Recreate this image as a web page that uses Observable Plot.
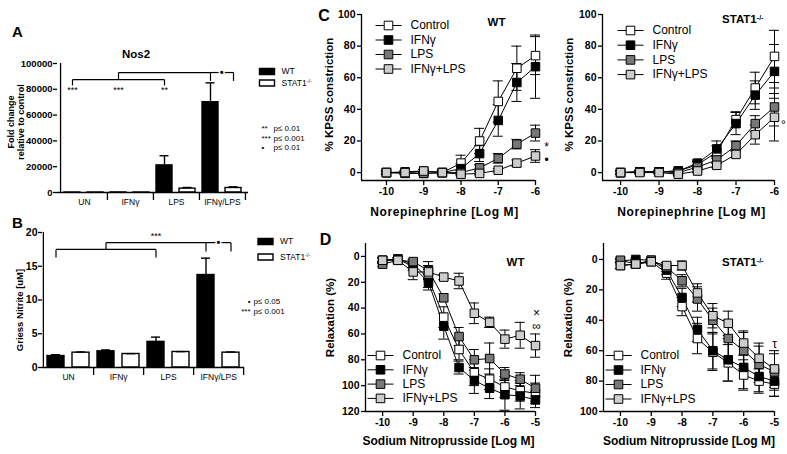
<!DOCTYPE html>
<html>
<head>
<meta charset="utf-8">
<script src="https://cdn.jsdelivr.net/npm/d3@7"></script>
<script src="https://cdn.jsdelivr.net/npm/@observablehq/plot@0.6"></script>
<style>
  html, body { margin: 0; padding: 0; background: #fff; }
  #chart { position: relative; width: 787px; height: 454px; overflow: hidden; background: #fff; }
</style>
</head>
<body>
<div id="chart"></div>
<script>
// ---------------- DATA ----------------
const groups = ["UN", "IFNγ", "LPS", "IFNγ/LPS"];
const genotypes = ["WT", "STAT1-/-"];

// A: Nos2 mRNA, fold change relative to control (mean, SEM)
const nos2WT = [1, 40, 21000, 70000];
const nos2WTsem = [0, 0, 7500, 15000];
const nos2KO = [1, 1, 3000, 3500];
const nos2KOsem = [0, 0, 900, 900];

// B: Griess nitrite [uM]
const nitriteWT = [1.7, 2.4, 3.8, 13.7];
const nitriteWTsem = [0.2, 0.2, 0.7, 2.5];
const nitriteKO = [2.2, 2.0, 2.3, 2.2];
const nitriteKOsem = [0.1, 0.05, 0.05, 0.1];

// significance brackets: [group1, genotype1, value1, group2, genotype2, value2]
const sigLinesA = [
  ["UN", "WT", 83000, "UN", "WT", 87500],
  ["UN", "WT", 87500, "LPS", "WT", 87500],
  ["LPS", "WT", 87500, "LPS", "WT", 83000],
  ["IFNγ", "WT", 87500, "IFNγ", "WT", 93000],
  ["IFNγ", "WT", 93000, "IFNγ/LPS", "WT", 93000],
  ["IFNγ/LPS", "WT", 93000, "IFNγ/LPS", "WT", 86500],
  ["IFNγ/LPS", "WT", 93000, "IFNγ/LPS", "STAT1-/-", 93000],
  ["IFNγ/LPS", "STAT1-/-", 93000, "IFNγ/LPS", "STAT1-/-", 86500]
];
const sigMarksA = [["UN", "WT", 79000, "***"], ["IFNγ", "WT", 79000, "***"], ["LPS", "WT", 79000, "**"]];
const sigDotA = [["IFNγ/LPS", 93000]];
const sigLinesB = [
  ["UN", "WT", 16.3, "UN", "WT", 17.5],
  ["UN", "WT", 17.5, "LPS", "WT", 17.5],
  ["LPS", "WT", 17.5, "LPS", "WT", 16.3],
  ["IFNγ", "WT", 17.5, "IFNγ", "WT", 18.5],
  ["IFNγ", "WT", 18.5, "IFNγ/LPS", "WT", 18.5],
  ["IFNγ/LPS", "WT", 18.5, "IFNγ/LPS", "WT", 17.2],
  ["IFNγ/LPS", "WT", 18.5, "IFNγ/LPS", "STAT1-/-", 18.5],
  ["IFNγ/LPS", "STAT1-/-", 18.5, "IFNγ/LPS", "STAT1-/-", 17.2]
];
const sigMarksB = [["LPS", "WT", 19.4, "***"]];
const sigDotB = [["IFNγ/LPS", 18.5]];
const pLegendA = [["**", "p≤ 0.01"], ["***", "p≤ 0.001"], ["•", "p≤ 0.01"]];
const pLegendB = [["•", "p≤ 0.05"], ["***", "p≤ 0.001"]];

// C/D dose–response curves
const treatments = ["Control", "IFNγ", "LPS", "IFNγ+LPS"];
const neDose = [-10, -9.5, -9, -8.5, -8, -7.5, -7, -6.5, -6];
const snpDose = [-10, -9.5, -9, -8.5, -8, -7.5, -7, -6.5, -6, -5.5, -5];

// C WT: % KPSS constriction
const cWT_Control = [0, 0.5, 1, 0, 6, 20, 45, 66, 74];
const cWT_ControlSem = [1, 1, 1, 1, 5, 8, 13, 14, 12];
const cWT_IFNg = [0, -0.5, -0.5, 0, 2.5, 12, 33, 57, 67];
const cWT_IFNgSem = [1, 1, 1, 1, 3, 5, 10, 12, 20];
const cWT_LPS = [0, 0, -0.5, 0, 0, 3, 9, 18, 25];
const cWT_LPSSem = [1, 1, 1, 1, 1, 2, 3, 3, 5];
const cWT_IFNgLPS = [0, 0, 1, 0, -1, -0.5, 1.5, 6, 10.5];
const cWT_IFNgLPSSem = [1, 1, 1, 1, 1, 1, 1, 2, 4];
// C STAT1-/-
const cKO_Control = [0, 0.5, 0.5, 1, 5, 13, 33.5, 53.5, 73.5];
const cKO_ControlSem = [1, 1, 1, 1, 2, 4, 5, 10, 16.5];
const cKO_IFNg = [0, 0.5, 0.5, 1, 6, 15, 31, 49, 64];
const cKO_IFNgSem = [1, 1, 1, 1, 2, 5, 7, 9, 17];
const cKO_LPS = [0, 0.5, 0.5, 0, 3.5, 8, 17, 31, 41.5];
const cKO_LPSSem = [1, 1, 1, 1, 1, 2, 3, 5, 12];
const cKO_IFNgLPS = [0, 0, 0, -1, 1, 4.6, 11.5, 24, 35];
const cKO_IFNgLPSSem = [1, 1, 1, 1, 1, 1.5, 2, 6, 15];
// D WT: relaxation %
const dWT_Control = [3, 2, 6, 17, 47, 72, 90, 95, 101, 104, 106];
const dWT_ControlSem = [2, 1, 3, 7, 8, 8, 10, 8, 8, 8, 8];
const dWT_IFNg = [3, 2, 8, 20, 54, 86, 96, 102, 107, 108, 111];
const dWT_IFNgSem = [2, 1, 3, 6, 10, 5, 10, 8, 12, 10, 6];
const dWT_LPS = [6, 3, 4, 11, 32, 62, 80, 79, 91, 95, 102];
const dWT_LPSSem = [2, 1, 2, 7, 3, 7, 8, 12, 5, 5, 10];
const dWT_IFNgLPS = [3, 3, 12, 12, 16, 19, 44, 51, 64, 61, 69];
const dWT_IFNgLPSSem = [2, 2, 6, 5, 2, 6, 8, 4, 7, 10, 9];
// D STAT1-/-
const dKO_Control = [4, 3, 1.5, 9, 31, 52, 61, 68, 76, 80, 82];
const dKO_ControlSem = [2, 1, 1, 4, 6, 10, 12, 12, 10, 8, 8];
const dKO_IFNg = [1, 0, 0.5, 7, 25, 46, 60, 66, 71, 77, 80];
const dKO_IFNgSem = [1, 1, 1, 3, 6, 8, 12, 14, 14, 10, 10];
const dKO_LPS = [0.5, 3, 0.5, 5, 14, 26, 40, 52, 60, 69, 74];
const dKO_LPSSem = [1, 2, 1, 3, 4, 8, 8, 12, 12, 12, 12];
const dKO_IFNgLPS = [4, 3, 1.5, 4, 4, 22, 37, 42, 55, 65, 72];
const dKO_IFNgLPSSem = [2, 2, 1, 2, 3, 6, 8, 8, 8, 10, 12];

// significance symbols at the highest dose: [dose, value, symbol]
const annCWT = [[-6, 16, "*"], [-6, 8, "•"]];
const annCKO = [[-6, 30, "°"]];
const annDWT = [[-5, 44, "×"], [-5, 54, "∞"]];
const annDKO = [[-5, 56, "τ"]];

// ---------------- LAYOUT / STYLE ----------------
const W = 787, H = 454;
const FONT = "'Liberation Sans', Arial, Helvetica, sans-serif";
const seriesFills = ["#ffffff", "#000000", "#787878", "#cdcdcd"];
const LW = 1.3;
const svgStyle = () => ({position: "absolute", left: "0px", top: "0px", background: "none", overflow: "visible", fontFamily: FONT, color: "#000"});
const frameMargins = (f) => ({width: W, height: H, marginLeft: f.left, marginRight: W - f.right, marginTop: f.top, marginBottom: H - f.bottom});

const rectSwatch = {draw(ctx) { ctx.moveTo(-7.5, -3); ctx.lineTo(7.5, -3); ctx.lineTo(7.5, 3); ctx.lineTo(-7.5, 3); ctx.closePath(); }};
const lineSwatch = {draw(ctx) {
  const h = 4.3;
  ctx.moveTo(-13, 0); ctx.lineTo(-h, 0);
  ctx.moveTo(h, 0); ctx.lineTo(13, 0);
  ctx.moveTo(-h, -h); ctx.lineTo(h, -h); ctx.lineTo(h, h); ctx.lineTo(-h, h); ctx.closePath();
}};

const txt = (s, o) => Plot.text([s], {text: (d) => d, textAnchor: "middle", lineAnchor: "middle", ...o});

// ---------------- BAR PANELS (A, B) ----------------
function barPanel(c) {
  const key = (g, s) => g + "|" + s;
  const rows = groups.flatMap((g, i) => [
    {key: key(g, genotypes[0]), g, geno: genotypes[0], v: c.wt[i], e: c.wtSem[i]},
    {key: key(g, genotypes[1]), g, geno: genotypes[1], v: c.ko[i], e: c.koSem[i]}
  ]);
  const step = (c.f.right - c.f.left) / rows.length;
  const errRows = rows.filter((d) => d.e > 0);
  const segs = c.sigLines.map(([g1, s1, y1, g2, s2, y2]) => ({a: key(g1, s1), ya: y1, b: key(g2, s2), yb: y2}));
  return Plot.plot({
    ...frameMargins(c.f),
    style: svgStyle(),
    x: {type: "band", domain: rows.map((d) => d.key), paddingInner: 0.31, paddingOuter: 0.155, axis: null},
    y: {domain: c.yDomain},
    color: {domain: genotypes, range: ["#000000", "#ffffff"]},
    marks: [
      Plot.barY(rows, {x: "key", y: "v", fill: "geno", stroke: "#000", strokeWidth: 1.4}),
      Plot.ruleX(errRows, {x: "key", y1: "v", y2: (d) => d.v + d.e, stroke: "#000", strokeWidth: 1.4}),
      Plot.tickY(errRows, {x: "key", y: (d) => d.v + d.e, insetLeft: c.capInset, insetRight: c.capInset, stroke: "#000", strokeWidth: 1.4}),
      Plot.ruleY([0], {stroke: "#000", strokeWidth: LW}),
      Plot.ruleX([rows[0].key], {dx: -step / 2, stroke: "#000", strokeWidth: LW}),
      Plot.ruleX(groups.map((g) => key(g, genotypes[1])), {dx: step / 2, y1: 0, y2: 0, insetBottom: -8, stroke: "#000", strokeWidth: LW}),
      Plot.axisY({ticks: c.yTicks, tickFormat: (d) => String(d), tickSize: 4, tickPadding: 1, fontSize: c.tickFont, fontWeight: "bold", strokeWidth: LW, label: null}),
      Plot.text(groups, {x: (g) => key(g, genotypes[0]), y: 0, dx: step / 2, dy: 10, text: (g) => g, fontSize: 8.5, fontWeight: "normal"}),
      Plot.link(segs, {x1: "a", y1: "ya", x2: "b", y2: "yb", stroke: "#000", strokeWidth: 1.2}),
      Plot.text(c.sigMarks, {x: (d) => key(d[0], d[1]), y: (d) => d[2], text: (d) => d[3], fontSize: 9, fontWeight: "normal"}),
      Plot.text(c.sigDot, {x: (d) => key(d[0], genotypes[1]), y: (d) => d[1], dx: -step / 2, text: () => "•", fontSize: 11, fontWeight: "bold", fill: "#000", stroke: "#fff", strokeWidth: 3, paintOrder: "stroke"}),
      // panel letter, title, axis label
      txt(c.letter, {frameAnchor: "top-left", dx: c.letterDx, dy: c.letterDy, fontSize: 15, fontWeight: "bold"}),
      ...(c.title ? [txt(c.title, {frameAnchor: "top", dx: c.titleDx, dy: c.titleDy, fontSize: 11.5, fontWeight: "bold"})] : []),
      txt(c.yLabel, {frameAnchor: "left", dx: c.yLabelDx, dy: c.yLabelDy, rotate: -90, fontSize: c.yLabelFont, fontWeight: "bold", lineHeight: 1.2}),
      // genotype legend
      ...genotypes.map((g, k) => Plot.dot([g], {frameAnchor: "top-right", dx: c.legDx, dy: c.legDy + k * c.legStep, symbol: rectSwatch, fill: k ? "#ffffff" : "#000000", stroke: "#000", strokeWidth: 1.4})),
      ...genotypes.map((g, k) => txt(g, {frameAnchor: "top-right", dx: c.legDx + 14.5, dy: c.legDy + k * c.legStep, textAnchor: "start", fontSize: 8.5, fontWeight: "normal"})),
      // p-value legend
      ...c.pLegend.map((p, k) => txt(p[0], {frameAnchor: "top-right", dx: c.pDx, dy: c.pDy + k * c.pStep, textAnchor: c.pSymAnchor, fontSize: 8, fontWeight: "normal"})),
      ...c.pLegend.map((p, k) => txt(p[1], {frameAnchor: "top-right", dx: c.pTextDx, dy: c.pDy + k * c.pStep, textAnchor: "start", fontSize: 8, fontWeight: "normal"}))
    ]
  });
}

// ---------------- CURVE PANELS (C, D) ----------------
function curvePanel(c) {
  const rows = treatments.flatMap((t, k) => c.doses.map((x, i) => ({t, x, y: c.values[k][i], e: c.sems[k][i]})));
  const xAxisAt = c.reverse ? c.yDomain[1] : c.yDomain[0];
  return Plot.plot({
    ...frameMargins(c.f),
    style: svgStyle(),
    x: {domain: c.xDomain},
    y: {domain: c.yDomain, reverse: c.reverse},
    color: {domain: treatments, range: seriesFills},
    marks: [
      Plot.ruleX([c.xDomain[0]], {stroke: "#000", strokeWidth: LW}),
      Plot.ruleY([xAxisAt], {stroke: "#000", strokeWidth: LW}),
      Plot.axisY({ticks: c.yTicks, tickFormat: (d) => String(d), tickSize: 4, tickPadding: 2, fontSize: 10.5, fontWeight: "bold", strokeWidth: LW, label: null}),
      Plot.axisX({ticks: c.xTicks, tickFormat: (d) => (d < 0 ? "-" : "") + Math.abs(d), tickSize: 5, tickPadding: 2, fontSize: 10.5, fontWeight: "bold", strokeWidth: LW, label: null}),
      Plot.line(rows, {x: "x", y: "y", z: "t", stroke: "#000", strokeWidth: 1}),
      Plot.ruleX(rows, {x: "x", y1: (d) => d.y - d.e, y2: (d) => d.y + d.e, stroke: "#000", strokeWidth: 1}),
      Plot.ruleY(rows, {x1: "x", x2: "x", y: (d) => d.y + d.e, insetLeft: -5, insetRight: -5, stroke: "#000", strokeWidth: 1}),
      Plot.ruleY(rows, {x1: "x", x2: "x", y: (d) => d.y - d.e, insetLeft: -5, insetRight: -5, stroke: "#000", strokeWidth: 1}),
      Plot.dot(rows, {x: "x", y: "y", fill: "t", symbol: "square", r: 4.8, stroke: "#000", strokeWidth: 1}),
      Plot.text(c.ann, {x: (d) => d[0], y: (d) => d[1], text: (d) => d[2], dx: c.annDx, fontSize: 12, fontWeight: "normal"}),
      // legend
      ...treatments.map((t, k) => Plot.dot([t], {frameAnchor: c.legAnchor, dx: c.legDx, dy: c.legDy + k * c.legStep, symbol: lineSwatch, fill: seriesFills[k], stroke: "#000", strokeWidth: 1})),
      ...treatments.map((t, k) => txt(t, {frameAnchor: c.legAnchor, dx: c.legDx + 22, dy: c.legDy + k * c.legStep, textAnchor: "start", fontSize: 12, fontWeight: "normal"})),
      // texts
      ...(c.letter ? [txt(c.letter, {frameAnchor: "top-left", dx: c.letterDx, dy: c.letterDy, fontSize: 16, fontWeight: "bold"})] : []),
      txt(c.title, {frameAnchor: "top-right", dx: c.titleDx, dy: c.titleDy, textAnchor: "end", fontSize: 11.5, fontWeight: "bold"}),
      txt(c.yLabel, {frameAnchor: "left", dx: c.yLabelDx, dy: c.yLabelDy, rotate: -90, fontSize: 11.5, fontWeight: "bold"}),
      txt(c.xLabel, {frameAnchor: "bottom", dx: c.xLabelDx, dy: c.xLabelDy, fontSize: 12, fontWeight: "bold"})
    ]
  });
}

const chart = document.getElementById("chart");

chart.appendChild(barPanel({
  f: {left: 57, right: 248, top: 63, bottom: 192},
  wt: nos2WT, wtSem: nos2WTsem, ko: nos2KO, koSem: nos2KOsem,
  yDomain: [0, 100000], yTicks: [0, 20000, 40000, 60000, 80000, 100000], tickFont: 9.5, capInset: 3.5,
  sigLines: sigLinesA, sigMarks: sigMarksA, sigDot: sigDotA,
  letter: "A", letterDx: -40, letterDy: -31, title: "Nos2", titleDx: -17, titleDy: -9,
  yLabel: "Fold change\nrelative to control", yLabelDx: -42, yLabelDy: -6, yLabelFont: 9,
  legDx: 18.5, legDy: 8, legStep: 11.5,
  pLegend: pLegendA, pDx: 13, pSymAnchor: "start", pTextDx: 25, pDy: 65, pStep: 9.5
}));

chart.appendChild(barPanel({
  f: {left: 42, right: 244, top: 232, bottom: 367},
  wt: nitriteWT, wtSem: nitriteWTsem, ko: nitriteKO, koSem: nitriteKOsem,
  yDomain: [0, 20], yTicks: [0, 5, 10, 15, 20], tickFont: 10.5, capInset: 4,
  sigLines: sigLinesB, sigMarks: sigMarksB, sigDot: sigDotB,
  letter: "B", letterDx: -25, letterDy: -9, title: null,
  yLabel: "Griess Nitrite [uM]", yLabelDx: -23, yLabelDy: 10, yLabelFont: 9.5,
  legDx: 21, legDy: 9, legStep: 15.5,
  pLegend: pLegendB, pDx: 6, pSymAnchor: "end", pTextDx: 9, pDy: 69, pStep: 10
}));

chart.appendChild(curvePanel({
  f: {left: 361, right: 535, top: 14, bottom: 180}, xDomain: [-10.67, -6], yDomain: [-5, 100], reverse: false,
  yTicks: [0, 20, 40, 60, 80, 100], xTicks: [-10, -9, -8, -7, -6], doses: neDose,
  values: [cWT_Control, cWT_IFNg, cWT_LPS, cWT_IFNgLPS], sems: [cWT_ControlSem, cWT_IFNgSem, cWT_LPSSem, cWT_IFNgLPSSem],
  ann: annCWT, annDx: 11,
  legAnchor: "top-left", legDx: 27, legDy: 11, legStep: 14.5,
  letter: "C", letterDx: -37.5, letterDy: 1, title: "WT", titleDx: -30, titleDy: 8,
  yLabel: "% KPSS constriction", yLabelDx: -32, yLabelDy: -3,
  xLabel: "Norepinephrine [Log M]", xLabelDx: -4, xLabelDy: 32
}));

chart.appendChild(curvePanel({
  f: {left: 602, right: 774, top: 14, bottom: 180}, xDomain: [-10.47, -6], yDomain: [-5, 100], reverse: false,
  yTicks: [0, 20, 40, 60, 80, 100], xTicks: [-10, -9, -8, -7, -6], doses: neDose,
  values: [cKO_Control, cKO_IFNg, cKO_LPS, cKO_IFNgLPS], sems: [cKO_ControlSem, cKO_IFNgSem, cKO_LPSSem, cKO_IFNgLPSSem],
  ann: annCKO, annDx: 9,
  legAnchor: "top-left", legDx: 28, legDy: 16, legStep: 14.7,
  letter: null, title: "STAT1-/-", titleDx: -11, titleDy: 5,
  yLabel: "% KPSS constriction", yLabelDx: -33, yLabelDy: -3,
  xLabel: "Norepinephrine [Log M]", xLabelDx: 3, xLabelDy: 32
}));

chart.appendChild(curvePanel({
  f: {left: 365, right: 535, top: 243, bottom: 411}, xDomain: [-10.56, -5], yDomain: [-10, 120], reverse: true,
  yTicks: [0, 20, 40, 60, 80, 100, 120], xTicks: [-10, -9, -8, -7, -6, -5], doses: snpDose,
  values: [dWT_Control, dWT_IFNg, dWT_LPS, dWT_IFNgLPS], sems: [dWT_ControlSem, dWT_IFNgSem, dWT_LPSSem, dWT_IFNgLPSSem],
  ann: annDWT, annDx: 1,
  legAnchor: "bottom-left", legDx: 15, legDy: -56, legStep: 14.3,
  letter: "D", letterDx: -40, letterDy: -4, title: "WT", titleDx: -11, titleDy: 19,
  yLabel: "Relaxation (%)", yLabelDx: -35, yLabelDy: -10,
  xLabel: "Sodium Nitroprusside [Log M]", xLabelDx: -2, xLabelDy: 30
}));

chart.appendChild(curvePanel({
  f: {left: 603, right: 774, top: 243, bottom: 411}, xDomain: [-10.55, -5], yDomain: [-10.5, 100], reverse: true,
  yTicks: [0, 20, 40, 60, 80, 100], xTicks: [-10, -9, -8, -7, -6, -5], doses: snpDose,
  values: [dKO_Control, dKO_IFNg, dKO_LPS, dKO_IFNgLPS], sems: [dKO_ControlSem, dKO_IFNgSem, dKO_LPSSem, dKO_IFNgLPSSem],
  ann: annDKO, annDx: 0,
  legAnchor: "bottom-left", legDx: 15, legDy: -56, legStep: 14.5,
  letter: null, title: "STAT1-/-", titleDx: -11, titleDy: 19,
  yLabel: "Relaxation (%)", yLabelDx: -35, yLabelDy: -10,
  xLabel: "Sodium Nitroprusside [Log M]", xLabelDx: 0, xLabelDy: 30
}));

// superscript for the knockout genotype label
const NS = "http://www.w3.org/2000/svg";
for (const t of chart.querySelectorAll("text")) {
  if (t.textContent === "STAT1-/-" && !t.querySelector("tspan")) {
    t.textContent = "STAT1";
    const sup = document.createElementNS(NS, "tspan");
    sup.setAttribute("dy", "-0.45em");
    sup.style.fontSize = "62%";
    sup.textContent = "-/-";
    t.appendChild(sup);
  }
  if (t.textContent.startsWith("Norepinephrine")) t.setAttribute("letter-spacing", "0.6");
}
</script>
</body>
</html>
